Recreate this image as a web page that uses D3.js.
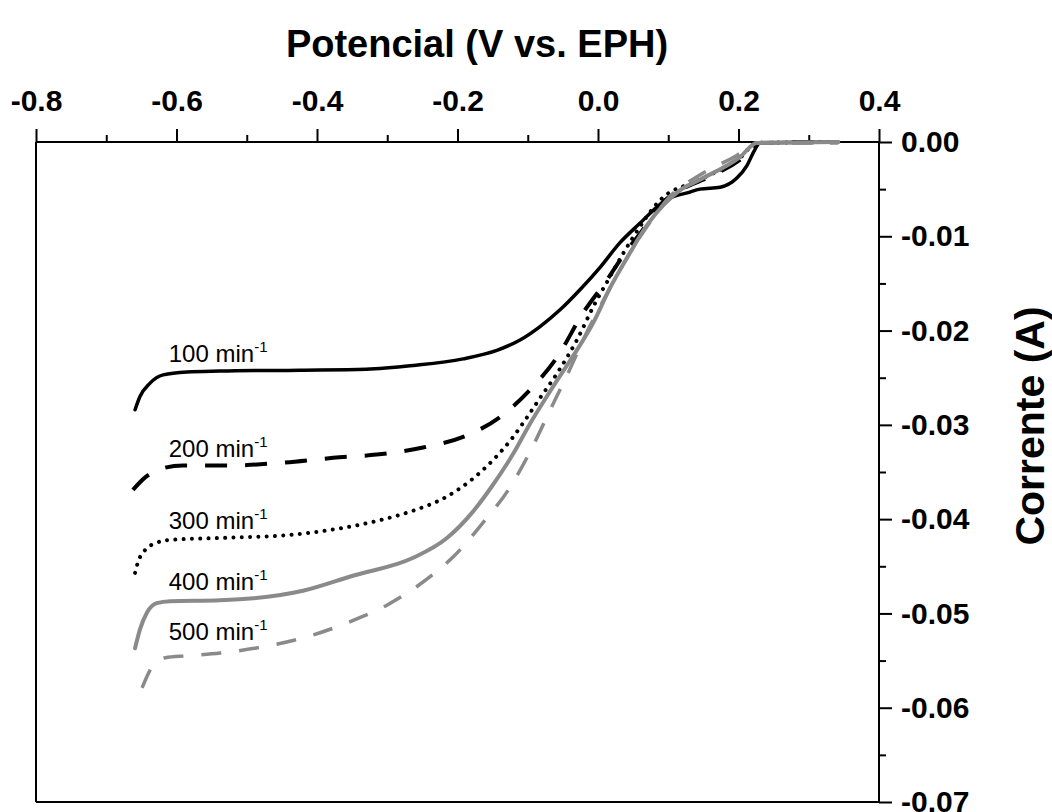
<!DOCTYPE html>
<html>
<head>
<meta charset="utf-8">
<script src="https://cdn.jsdelivr.net/npm/d3@7"></script>
<style>
  body { margin: 0; background: #fff; }
  svg { display: block; font-family: "Liberation Sans", Arial, sans-serif; }
</style>
</head>
<body>
<script>
// potential (V) / current (A) pairs
var rpm100 = [
  [-0.659, -0.0284], [-0.652, -0.0270], [-0.638, -0.0256], [-0.619, -0.0247],
  [-0.585, -0.0244], [-0.538, -0.0243], [-0.424, -0.0242], [-0.330, -0.0241],
  [-0.263, -0.0237], [-0.192, -0.0230], [-0.144, -0.0221], [-0.111, -0.0210],
  [-0.083, -0.0196], [-0.054, -0.0178], [-0.026, -0.0157], [0.003, -0.0133],
  [0.031, -0.0107], [0.060, -0.0086], [0.084, -0.0069], [0.107, -0.0058],
  [0.127, -0.0054], [0.145, -0.0050], [0.174, -0.0048], [0.198, -0.0038],
  [0.212, -0.0025], [0.222, -0.0010], [0.230, -0.0001], [0.342, 0.0]
];
var rpm200 = [
  [-0.662, -0.0369], [-0.645, -0.0356], [-0.619, -0.0346], [-0.591, -0.0343],
  [-0.520, -0.0343], [-0.448, -0.0340], [-0.377, -0.0335], [-0.296, -0.0330],
  [-0.249, -0.0324], [-0.186, -0.0311], [-0.140, -0.0292], [-0.097, -0.0263],
  [-0.058, -0.0228], [-0.021, -0.0181], [0.013, -0.0146], [0.041, -0.0115],
  [0.060, -0.0097], [0.088, -0.0067], [0.117, -0.0051], [0.159, -0.0037],
  [0.202, -0.0019], [0.223, -0.0006], [0.230, -0.0001], [0.342, 0.0]
];
var rpm300 = [
  [-0.659, -0.0457], [-0.655, -0.0446], [-0.645, -0.0433], [-0.628, -0.0425],
  [-0.609, -0.0422], [-0.538, -0.0420], [-0.443, -0.0417], [-0.377, -0.0411],
  [-0.310, -0.0401], [-0.263, -0.0391], [-0.215, -0.0376], [-0.178, -0.0357],
  [-0.149, -0.0337], [-0.121, -0.0313], [-0.101, -0.0292], [-0.083, -0.0272],
  [-0.058, -0.0245], [-0.030, -0.0210], [-0.007, -0.0175], [0.017, -0.0143],
  [0.036, -0.0118], [0.050, -0.0101], [0.088, -0.0062], [0.145, -0.0040],
  [0.202, -0.0017], [0.226, -0.0001], [0.342, 0.0]
];
var rpm400 = [
  [-0.659, -0.0537], [-0.652, -0.0517], [-0.642, -0.0499], [-0.628, -0.0489],
  [-0.609, -0.0487], [-0.538, -0.0486], [-0.491, -0.0484], [-0.420, -0.0476],
  [-0.349, -0.0460], [-0.263, -0.0441], [-0.215, -0.0420], [-0.178, -0.0392],
  [-0.149, -0.0363], [-0.121, -0.0331], [-0.097, -0.0299], [-0.073, -0.0270],
  [-0.054, -0.0248], [-0.026, -0.0216], [-0.007, -0.0192], [0.017, -0.0155],
  [0.046, -0.0117], [0.070, -0.0088], [0.093, -0.0067], [0.117, -0.0051],
  [0.145, -0.0040], [0.202, -0.0016], [0.226, -0.0001], [0.342, 0.0]
];
var rpm500 = [
  [-0.649, -0.0579], [-0.635, -0.0557], [-0.616, -0.0547], [-0.585, -0.0545],
  [-0.538, -0.0542], [-0.481, -0.0536], [-0.420, -0.0526], [-0.357, -0.0510],
  [-0.300, -0.0491], [-0.239, -0.0461], [-0.206, -0.0440], [-0.164, -0.0404],
  [-0.125, -0.0366], [-0.093, -0.0323], [-0.068, -0.0284], [-0.047, -0.0252],
  [-0.014, -0.0199], [0.017, -0.0155], [0.046, -0.0117], [0.074, -0.0085],
  [0.102, -0.0058], [0.145, -0.0035], [0.198, -0.0014], [0.226, -0.0001],
  [0.342, -0.0001]
];

var seriesNames = ["100", "200", "300", "400", "500"];
// where each "xxx min-1" label sits, in data units (left edge, baseline)
var labelAt = [[-0.611, -0.0233], [-0.611, -0.0334], [-0.611, -0.0410], [-0.611, -0.0475], [-0.611, -0.0528]];

var vTicks = [-0.8, -0.6, -0.4, -0.2, 0.0, 0.2, 0.4];
var vMinor = [-0.7, -0.5, -0.3, -0.1, 0.1, 0.3];
var iTicks = [0.0, -0.01, -0.02, -0.03, -0.04, -0.05, -0.06, -0.07];
var iMinor = [-0.005, -0.015, -0.025, -0.035, -0.045, -0.055, -0.065];

var margin = { top: 142, right: 173, bottom: 10, left: 36 },
  width = 1052 - margin.left - margin.right,
  height = 812 - margin.top - margin.bottom;

var x = d3.scaleLinear().domain([-0.8, 0.4]).range([0, width]);
var y = d3.scaleLinear().domain([0, -0.07]).range([0, height]);

var svg = d3
  .select("body")
  .append("svg")
  .attr("width", 1052)
  .attr("height", 812);

var g = svg.append("g").attr("transform", "translate(" + margin.left + "," + margin.top + ")");

// frame: left and bottom plain lines
g.append("line").attr("x1", 0).attr("x2", 0).attr("y1", 0).attr("y2", height)
  .attr("stroke", "#000").attr("stroke-width", 2);
g.append("line").attr("x1", 0).attr("x2", width).attr("y1", height).attr("y2", height)
  .attr("stroke", "#000").attr("stroke-width", 2);

var fmtV = function (d) { return d.toFixed(1); };
var fmtI = function (d) { return d === 0 ? "0.00" : d.toFixed(2); };

// top axis
g.append("g").call(d3.axisTop(x).tickValues(vTicks).tickFormat(fmtV).tickSize(13).tickPadding(18));
g.append("g").call(d3.axisTop(x).tickValues(vMinor).tickFormat("").tickSize(7));

// right axis
g.append("g").attr("transform", "translate(" + width + ",0)")
  .call(d3.axisRight(y).tickValues(iTicks).tickFormat(fmtI).tickSize(13).tickPadding(9));
g.append("g").attr("transform", "translate(" + width + ",0)")
  .call(d3.axisRight(y).tickValues(iMinor).tickFormat("").tickSize(7));

g.selectAll(".domain").attr("stroke-width", 2).attr("d", null);
g.selectAll(".tick line").attr("stroke-width", 2);
g.selectAll(".tick text")
  .attr("font-family", "'Liberation Sans', Arial, sans-serif")
  .attr("font-size", 30)
  .attr("font-weight", "bold")
  .attr("fill", "#000");

// axis lines drawn plainly on top
g.append("line").attr("x1", 0).attr("x2", width).attr("y1", 0).attr("y2", 0)
  .attr("stroke", "#000").attr("stroke-width", 2);
g.append("line").attr("x1", width).attr("x2", width).attr("y1", 0).attr("y2", height)
  .attr("stroke", "#000").attr("stroke-width", 2);

var line = d3
  .line()
  .x(function (d) { return x(d[0]); })
  .y(function (d) { return y(d[1]); })
  .curve(d3.curveMonotoneX);

var styles = [
  { color: "#000", w: 3.5, dash: null, cap: "round" },
  { color: "#000", w: 4, dash: "22, 18", cap: "butt" },
  { color: "#000", w: 4, dash: "0.01, 8.3", cap: "round" },
  { color: "#8a8a8a", w: 4, dash: null, cap: "round" },
  { color: "#8a8a8a", w: 3.5, dash: "20, 18", cap: "butt" }
];
var allSeries = [rpm100, rpm200, rpm300, rpm400, rpm500];

allSeries.forEach(function (s, k) {
  g.append("path")
    .datum(s)
    .attr("fill", "none")
    .attr("stroke", styles[k].color)
    .attr("stroke-width", styles[k].w)
    .attr("stroke-linecap", styles[k].cap)
    .attr("stroke-dasharray", styles[k].dash)
    .attr("d", line);
});

// curve labels
seriesNames.forEach(function (n, k) {
  var t = g.append("text")
    .attr("x", x(labelAt[k][0]))
    .attr("y", y(labelAt[k][1]))
    .attr("font-size", 24)
    .attr("fill", "#000");
  t.append("tspan").text(n + " min");
  t.append("tspan").attr("font-size", 15).attr("dy", -10).text("-1");
});

// axis titles
svg.append("text")
  .attr("x", 477)
  .attr("y", 57)
  .attr("text-anchor", "middle")
  .attr("font-size", 38)
  .attr("font-weight", "bold")
  .text("Potencial (V vs. EPH)");

svg.append("text")
  .attr("transform", "translate(1044,426) rotate(-90)")
  .attr("text-anchor", "middle")
  .attr("font-size", 41)
  .attr("font-weight", "bold")
  .text("Corrente (A)");
</script>
</body>
</html>
